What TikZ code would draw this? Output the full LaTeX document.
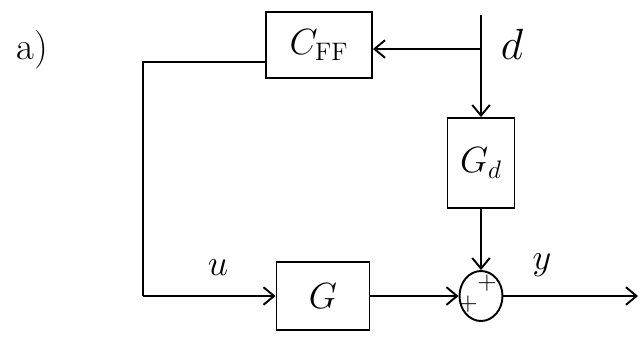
\documentclass[tikz,border=0pt]{standalone}
\usetikzlibrary{arrows.meta,shapes.geometric}
\begin{document}
\begin{tikzpicture}[x=0.02cm,y=-0.02cm,
  blk/.style={draw,line width=1.1pt,minimum width=#1,inner sep=0pt},
  sumnode/.style={draw,ellipse,line width=1.1pt,minimum width=0.86cm,minimum height=1.0cm,inner sep=0pt},
  conn/.style={line width=1.1pt,-{Straight Barb[length=6pt,width=10pt]}},
  wire/.style={line width=1.1pt},
  lbl/.style={font=\fontsize{22}{24}\selectfont}]
\useasboundingbox (0,0) rectangle (641,338);
\node[blk=2.12cm,minimum height=1.32cm,lbl] (cff) at (319,45) {$C_{\mathrm{FF}}$};
\node[blk=1.34cm,minimum height=1.8cm,lbl] (gd) at (481,163) {$G_d$};
\node[blk=1.86cm,minimum height=1.36cm,lbl] (g) at (323,296) {$G$};
\node[sumnode] (sum) at (481,296) {};
\coordinate (dtop) at (481,15);
\coordinate (dj) at (481,49);
\coordinate (c1) at (143,62);
\coordinate (c2) at (143,296);
\coordinate (yend) at (638,296);
\draw[wire] (dtop) -- (dj);
\draw[conn] (dj) -- (dj -| cff.east);
\draw[conn] (dj) -- (gd.north);
\draw[conn] (gd.south) -- (sum.north);
\draw[wire] (cff.west |- c1) -- (c1) -- (c2);
\draw[conn] (c2) -- (g.west);
\draw[conn] (g.east) -- (sum.west);
\draw[conn] (sum.east) -- (yend);
\node[font=\fontsize{30}{32}\selectfont] (dl) at (512,44) {$d$};
\node[lbl] (ul) at (218,268) {$u$};
\node[lbl] (yl) at (542,265) {$y$};
\node[lbl] (al) at (32,50) {a)};
\node[font=\fontsize{14}{14}\selectfont] (p1) at (487,283) {$+$};
\node[font=\fontsize{14}{14}\selectfont] (p2) at (468,304) {$+$};
\end{tikzpicture}
\end{document}
